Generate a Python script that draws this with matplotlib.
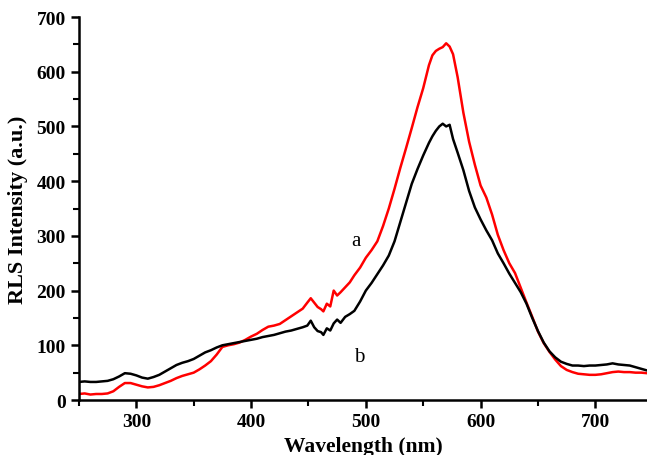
import numpy as np
import matplotlib
matplotlib.use('Agg')
import matplotlib.pyplot as plt

# wavelength grid (nm)
wavelength = [250, 255, 260, 265, 270, 275, 280, 285, 290, 295, 300, 305, 310, 315, 320,
              325, 330, 335, 340, 345, 350, 355, 360, 365, 370, 375, 380, 385, 390, 395,
              400, 405, 410, 415, 420, 425, 430, 435, 440, 445, 449, 452, 455, 458, 461,
              463, 466, 469, 472, 475, 478, 482, 486, 490, 495, 500, 505, 510, 515, 520,
              525, 530, 535, 540, 545, 550, 555, 558, 561, 564, 567, 570, 573, 576, 580,
              585, 590, 595, 600, 605, 610, 615, 620, 625, 630, 635, 640, 645, 650, 655,
              660, 665, 670, 675, 680, 685, 690, 695, 700, 705, 710, 715, 720, 725, 730,
              735, 740, 745]

# curve a (red)
curve_a = [11, 12, 10, 11, 11, 12, 16, 24, 31, 31, 28, 25, 23, 24, 27,
           31, 35, 40, 44, 47, 50, 56, 63, 71, 83, 97, 100, 102, 105, 110,
           116, 121, 128, 134, 136, 139, 146, 153, 160, 167, 178, 186, 178, 170, 166,
           162, 176, 171, 200, 191, 197, 206, 215, 228, 242, 260, 274, 290, 318, 350,
           386, 424, 460, 497, 535, 570, 612, 630, 638, 642, 645, 652, 646, 632, 590,
           525, 472, 430, 392, 370, 339, 302, 274, 250, 232, 205, 178, 152, 125, 104,
           88, 74, 62, 55, 51, 48, 47, 46, 46, 47, 49, 51, 52, 51, 51,
           50, 50, 49]

# curve b (black)
curve_b = [33, 34, 33, 33, 34, 35, 38, 43, 49, 48, 45, 41, 39, 42, 46,
           52, 58, 64, 68, 71, 75, 81, 87, 91, 96, 100, 102, 104, 106, 108,
           110, 112, 115, 117, 119, 122, 125, 127, 130, 133, 136, 145, 133, 126, 124,
           119, 131, 127, 140, 147, 141, 152, 157, 163, 180, 200, 214, 230, 246, 264,
           290, 325, 360, 395, 422, 447, 470, 482, 492, 500, 505, 500, 503, 477, 452,
           420, 382, 352, 330, 310, 292, 268, 250, 231, 214, 197, 176, 150, 126, 105,
           89, 78, 70, 66, 63, 63, 62, 63, 63, 64, 65, 67, 65, 64, 63,
           60, 57, 54]

plt.rcParams['font.family'] = ['Liberation Serif', 'DejaVu Serif']

fig = plt.figure(figsize=(6.47, 4.56), dpi=100)
ax = fig.add_axes([0.122, 0.1206, 0.878, 0.8399])

ax.plot(wavelength, curve_a, color='#ff0000', lw=1.8)
ax.plot(wavelength, curve_b, color='black', lw=1.8)

ax.text(491, 291, 'a', fontsize=15, ha='center', va='center')
ax.text(494, 79, 'b', fontsize=15, ha='center', va='center')

ax.set_xlim(250, 745)
ax.set_ylim(0, 700)
ax.set_xticks([300, 400, 500, 600, 700])
ax.set_xticks(np.arange(250, 750, 50), minor=True)
ax.set_yticks(np.arange(0, 701, 100))
ax.set_yticks(np.arange(50, 700, 100), minor=True)

for s in ['top', 'right']:
    ax.spines[s].set_visible(False)
for s in ['left', 'bottom']:
    ax.spines[s].set_linewidth(1.8)

ax.tick_params(which='major', direction='out', length=6, width=1.8, labelsize=14)
ax.tick_params(which='minor', direction='out', length=4, width=1.5)
for lab in ax.get_xticklabels() + ax.get_yticklabels():
    lab.set_fontweight('bold')

ax.set_xlabel('Wavelength (nm)', fontsize=15.5, fontweight='bold', labelpad=4)
ax.set_ylabel('RLS Intensity (a.u.)', fontsize=16, fontweight='bold', labelpad=6)

fig.savefig('out.png', dpi=100)
